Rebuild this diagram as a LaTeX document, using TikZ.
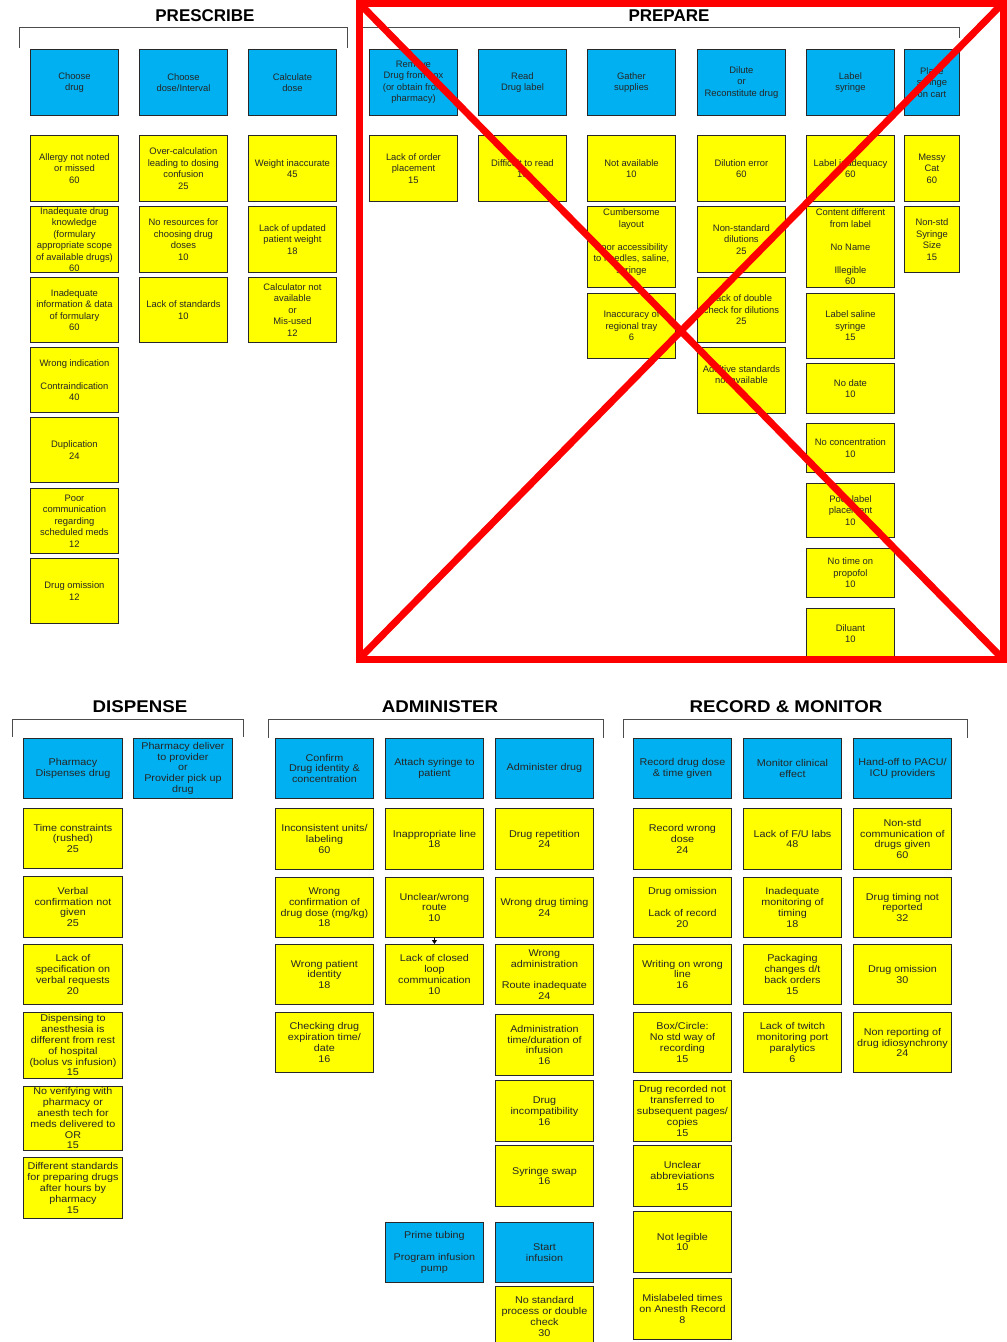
\documentclass[tikz,border=0pt]{standalone}
\usepackage{fontspec}
\setmainfont{Liberation Sans}
\newfontfamily\widefont[FakeStretch=1.1]{Liberation Sans}
\usetikzlibrary{arrows.meta}
\definecolor{cblue}{RGB}{0,176,240}
\definecolor{cyel}{RGB}{255,255,0}
\definecolor{cline}{RGB}{40,40,40}
\newcommand\topf{\fontsize{9.4}{11.5}\selectfont}
\newcommand\botf{\widefont\fontsize{9.8}{10.8}\selectfont}
\tikzset{
 bx/.style={draw=cline, line width=0.9pt, rectangle, inner sep=0pt, anchor=north west},
 blu/.style={bx, fill=cblue},
 yel/.style={bx, fill=cyel},
 tt/.style={align=center, inner sep=0pt, text=black!85, font=\topf},
 bt/.style={align=center, inner sep=0pt, text=black!85, font=\botf},
 hdr/.style={font=\bfseries\fontsize{17}{17}\selectfont},
 bhdr/.style={font=\widefont\bfseries\fontsize{17}{17}\selectfont},
 brk/.style={draw=black!70, line width=0.9pt},
 redx/.style={draw=red, line width=7pt},
}
\newcommand\B[8]{\node[#2, minimum width=#5pt, minimum height=#6pt] (#1) at (#3,#4) {}; \node[#7] (#1t) at (#1.center) {#8};}
\begin{document}
\begin{tikzpicture}[x=1pt,y=-1pt]
\useasboundingbox (0,0) rectangle (1007,1342);
% ---------------- PRESCRIBE
\node[hdr] (hpre) at (205,16) {PRESCRIBE};
\draw[brk] (19,48) -- (19,27) -- (347,27) -- (347,48);
\B{p1}{blu}{30}{49}{88}{66}{tt}{Choose\\drug}
\B{p2}{blu}{139}{49}{88}{66}{tt}{Choose\\dose/Interval}
\B{p3}{blu}{248}{49}{88}{66}{tt}{Calculate\\dose}
\B{pa1}{yel}{30}{135}{88}{66}{tt}{Allergy not noted\\or missed\\60}
\B{pa2}{yel}{30}{206}{88}{66}{tt}{Inadequate drug\\knowledge\\(formulary\\appropriate scope\\of available drugs)\\60}
\B{pa3}{yel}{30}{277}{88}{65}{tt}{Inadequate\\information \& data\\of formulary\\60}
\B{pa4}{yel}{30}{347}{88}{65}{tt}{Wrong indication\\~\\Contraindication\\40}
\B{pa5}{yel}{30}{417}{88}{65}{tt}{Duplication\\24}
\B{pa6}{yel}{30}{488}{88}{65}{tt}{Poor\\communication\\regarding\\scheduled meds\\12}
\B{pa7}{yel}{30}{558}{88}{65}{tt}{Drug omission\\12}
\B{pb1}{yel}{139}{135}{88}{66}{tt}{Over-calculation\\leading to dosing\\confusion\\25}
\B{pb2}{yel}{139}{206}{88}{66}{tt}{No resources for\\choosing drug\\doses\\10}
\B{pb3}{yel}{139}{277}{88}{65}{tt}{Lack of standards\\10}
\B{pc1}{yel}{248}{135}{88}{66}{tt}{Weight inaccurate\\45}
\B{pc2}{yel}{248}{206}{88}{66}{tt}{Lack of updated\\patient weight\\18}
\B{pc3}{yel}{248}{277}{88}{65}{tt}{Calculator not\\available\\or\\Mis-used\\12}
% ---------------- PREPARE
\node[hdr] (hprep) at (669,16) {PREPARE};
\draw[brk] (362,38) -- (362,27) -- (959,27) -- (959,38);
\B{r1}{blu}{369}{49}{88}{66}{tt}{Remove\\Drug from box\\(or obtain from\\pharmacy)}
\B{r2}{blu}{478}{49}{88}{66}{tt}{Read\\Drug label}
\B{r3}{blu}{587}{49}{88}{66}{tt}{Gather\\supplies}
\B{r4}{blu}{697}{49}{88}{66}{tt}{Dilute\\or\\Reconstitute drug}
\B{r5}{blu}{806}{49}{88}{66}{tt}{Label\\syringe}
\B{r6}{blu}{904}{49}{55}{66}{tt}{Place\\syringe\\on cart}
\B{ra1}{yel}{369}{135}{88}{66}{tt}{Lack of order\\placement\\15}
\B{rb1}{yel}{478}{135}{88}{66}{tt}{Difficult to read\\10}
\B{rc1}{yel}{587}{135}{88}{66}{tt}{Not available\\10}
\B{rc2}{yel}{587}{206}{88}{81}{tt}{Cumbersome\\layout\\~\\Poor accessibility\\to needles, saline,\\syringe\\~}
\B{rc3}{yel}{587}{293}{88}{65}{tt}{Inaccuracy of\\regional tray\\6}
\B{rd1}{yel}{697}{135}{88}{66}{tt}{Dilution error\\60}
\B{rd2}{yel}{697}{206}{88}{66}{tt}{Non-standard\\dilutions\\25}
\B{rd3}{yel}{697}{277}{88}{65}{tt}{Lack of double\\check for dilutions\\25}
\B{rd4}{yel}{697}{347}{88}{66}{tt}{Additive standards\\not available\\~}
\B{re1}{yel}{806}{135}{88}{66}{tt}{Label inadequacy\\60}
\B{re2}{yel}{806}{206}{88}{81}{tt}{Content different\\from label\\~\\No Name\\~\\Illegible\\60}
\B{re3}{yel}{806}{293}{88}{65}{tt}{Label saline\\syringe\\15}
\B{re4}{yel}{806}{363}{88}{50}{tt}{No date\\10}
\B{re5}{yel}{806}{423}{88}{49}{tt}{No concentration\\10}
\B{re6}{yel}{806}{483}{88}{54}{tt}{Poor label\\placement\\10}
\B{re7}{yel}{806}{548}{88}{49}{tt}{No time on\\propofol\\10}
\B{re8}{yel}{806}{608}{88}{50}{tt}{Diluant\\10}
\B{rf1}{yel}{904}{135}{55}{66}{tt}{Messy\\Cat\\60}
\B{rf2}{yel}{904}{206}{55}{66}{tt}{Non-std\\Syringe\\Size\\15}
% red cross
\draw[redx] (359,3) rectangle (1003,659);
\draw[redx] (359,3) -- (1003,659);
\draw[redx] (1003,3) -- (359,659);
% ---------------- DISPENSE
\node[bhdr] (hdis) at (140,707) {DISPENSE};
\draw[brk] (12,737) -- (12,719) -- (243,719) -- (243,737);
\B{d1}{blu}{23}{738}{99}{60}{bt}{Pharmacy\\Dispenses drug}
\B{d2}{blu}{133}{738}{99}{60}{bt}{Pharmacy deliver\\to provider\\or\\Provider pick up\\drug}
\B{da1}{yel}{23}{808}{99}{60}{bt}{Time constraints\\(rushed)\\25}
\B{da2}{yel}{23}{876}{99}{61}{bt}{Verbal\\confirmation not\\given\\25}
\B{da3}{yel}{23}{944}{99}{60}{bt}{Lack of\\specification on\\verbal requests\\20}
\B{da4}{yel}{23}{1012}{99}{66}{bt}{Dispensing to\\anesthesia is\\different from rest\\of hospital\\(bolus vs infusion)\\15}
\B{da5}{yel}{23}{1086}{99}{64}{bt}{No verifying with\\pharmacy or\\anesth tech for\\meds delivered to\\OR\\15}
\B{da6}{yel}{23}{1157}{99}{61}{bt}{Different standards\\for preparing drugs\\after hours by\\pharmacy\\15}
% ---------------- ADMINISTER
\node[bhdr] (hadm) at (440,707) {ADMINISTER};
\draw[brk] (268,738) -- (268,719) -- (603,719) -- (603,738);
\B{a1}{blu}{275}{738}{98}{60}{bt}{Confirm\\Drug identity \&\\concentration}
\B{a2}{blu}{385}{738}{98}{60}{bt}{Attach syringe to\\patient}
\B{a3}{blu}{495}{738}{98}{60}{bt}{Administer drug}
\B{aa1}{yel}{275}{808}{98}{61}{bt}{Inconsistent units/\\labeling\\60}
\B{aa2}{yel}{275}{877}{98}{60}{bt}{Wrong\\confirmation of\\drug dose (mg/kg)\\18}
\B{aa3}{yel}{275}{944}{98}{60}{bt}{Wrong patient\\identity\\18}
\B{aa4}{yel}{275}{1012}{98}{60}{bt}{Checking drug\\expiration time/\\date\\16}
\B{ab1}{yel}{385}{808}{98}{61}{bt}{Inappropriate line\\18}
\B{ab2}{yel}{385}{877}{98}{60}{bt}{Unclear/wrong\\route\\10}
\B{ab3}{yel}{385}{944}{98}{60}{bt}{Lack of closed\\loop\\communication\\10}
\B{ac1}{yel}{495}{808}{98}{61}{bt}{Drug repetition\\24}
\B{ac2}{yel}{495}{877}{98}{60}{bt}{Wrong drug timing\\24}
\B{ac3}{yel}{495}{944}{98}{60}{bt}{Wrong\\administration\\~\\Route inadequate\\24}
\B{ac4}{yel}{495}{1014}{98}{61}{bt}{Administration\\time/duration of\\infusion\\16}
\B{ac5}{yel}{495}{1080}{98}{61}{bt}{Drug\\incompatibility\\16}
\B{ac6}{yel}{495}{1145}{98}{61}{bt}{Syringe swap\\16}
\B{a4}{blu}{385}{1222}{98}{60}{bt}{Prime tubing\\~\\Program infusion\\pump}
\B{a5}{blu}{495}{1222}{98}{60}{bt}{Start\\infusion}
\B{ad1}{yel}{495}{1286}{98}{60}{bt}{No standard\\process or double\\check\\30}
\draw[draw=black, line width=0.8pt, -{Triangle[width=5pt,length=4pt]}] (ab2.south) -- (ab3.north);
% ---------------- RECORD & MONITOR
\node[bhdr] (hrec) at (786,707) {RECORD \& MONITOR};
\draw[brk] (623,738) -- (623,719) -- (967,719) -- (967,738);
\B{m1}{blu}{633}{738}{98}{60}{bt}{Record drug dose\\\& time given}
\B{m2}{blu}{743}{738}{98}{60}{bt}{Monitor clinical\\effect}
\B{m3}{blu}{853}{738}{98}{60}{bt}{Hand-off to PACU/\\ICU providers}
\B{ma1}{yel}{633}{808}{98}{61}{bt}{Record wrong\\dose\\24}
\B{ma2}{yel}{633}{877}{98}{60}{bt}{Drug omission\\~\\Lack of record\\20}
\B{ma3}{yel}{633}{944}{98}{60}{bt}{Writing on wrong\\line\\16}
\B{ma4}{yel}{633}{1012}{98}{60}{bt}{Box/Circle:\\No std way of\\recording\\15}
\B{ma5}{yel}{633}{1080}{98}{61}{bt}{Drug recorded not\\transferred to\\subsequent pages/\\copies\\15}
\B{ma6}{yel}{633}{1145}{98}{61}{bt}{Unclear\\abbreviations\\15}
\B{ma7}{yel}{633}{1211}{98}{61}{bt}{Not legible\\10}
\B{ma8}{yel}{633}{1278}{98}{61}{bt}{Mislabeled times\\on Anesth Record\\8}
\B{mb1}{yel}{743}{808}{98}{61}{bt}{Lack of F/U labs\\48}
\B{mb2}{yel}{743}{877}{98}{60}{bt}{Inadequate\\monitoring of\\timing\\18}
\B{mb3}{yel}{743}{944}{98}{60}{bt}{Packaging\\changes d/t\\back orders\\15}
\B{mb4}{yel}{743}{1012}{98}{60}{bt}{Lack of twitch\\monitoring port\\paralytics\\6}
\B{mc1}{yel}{853}{808}{98}{61}{bt}{Non-std\\communication of\\drugs given\\60}
\B{mc2}{yel}{853}{877}{98}{60}{bt}{Drug timing not\\reported\\32}
\B{mc3}{yel}{853}{944}{98}{60}{bt}{Drug omission\\30}
\B{mc4}{yel}{853}{1012}{98}{60}{bt}{Non reporting of\\drug idiosynchrony\\24}
\end{tikzpicture}
\end{document}
